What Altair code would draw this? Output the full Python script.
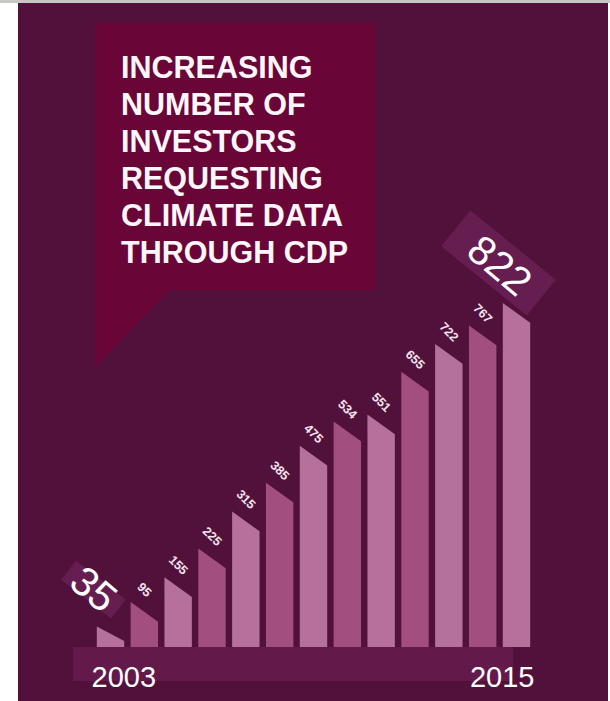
import altair as alt
import pandas as pd

# ---- data ----
years = [2003, 2004, 2005, 2006, 2007, 2008, 2009, 2010, 2011, 2012, 2013, 2014, 2015]
investors = [35, 95, 155, 225, 315, 385, 475, 534, 551, 655, 722, 767, 822]
title_lines = ["INCREASING", "NUMBER OF", "INVESTORS", "REQUESTING", "CLIMATE DATA", "THROUGH CDP"]
end_years = [2003, 2015]

# ---- styles ----
BG = "#52113a"
BUBBLE = "#6a0538"
BAND = "#631a4b"
LABEL_BOX = "#661e50"
LIGHT = "#b5719b"
DARK = "#a24f7f"
FONT = "Liberation Sans"

HALF_W = 0.405   # half bar width in years
SLANT = 48       # drop of the slanted bar top in data units

rows = []
for i, (yr, v) in enumerate(zip(years, investors)):
    shade = "light" if i % 2 == 0 else "dark"
    rows.append({"year": yr, "xpos": yr - HALF_W, "top": v, "shade": shade})
    rows.append({"year": yr, "xpos": yr + HALF_W, "top": max(v - SLANT, 0), "shade": shade})
bars_df = pd.DataFrame(rows)
vals_df = pd.DataFrame({"year": years, "value": investors})
ends_df = pd.DataFrame({"year": end_years, "label": [str(y) for y in end_years]})

xs = alt.Scale(domain=[2003, 2015], range=[110.5, 516.5], nice=False, zero=False)
ys = alt.Scale(domain=[0, 822], range=[641, 303], nice=False, zero=False)

one = alt.Data(values=[{}])

bg = alt.Chart(one).mark_rect(color=BG).encode(
    x=alt.value(18), x2=alt.value(608), y=alt.value(3), y2=alt.value(701))
topline = alt.Chart(one).mark_rect(color="#c6c9c1").encode(
    x=alt.value(0), x2=alt.value(610), y=alt.value(0), y2=alt.value(3))

bubble = alt.Chart(one).mark_point(
    shape="M95,23L375,23L375,290L170,290L95,367Z", size=4, filled=True,
    opacity=1, color=BUBBLE, strokeWidth=0
).encode(x=alt.value(0), y=alt.value(0))

title = alt.Chart(one).mark_text(
    text=title_lines, align="left", baseline="alphabetic", font=FONT,
    fontSize=30.5, fontWeight="bold", lineHeight=37, color="#fdf6fa"
).encode(x=alt.value(121), y=alt.value(78))

bars = alt.Chart(bars_df).mark_area(opacity=1, interpolate="linear").encode(
    x=alt.X("xpos:Q", scale=xs, axis=None),
    y=alt.Y("top:Q", scale=ys, axis=None, stack=None),
    y2=alt.value(647),
    detail="year:N",
    color=alt.Color("shade:N", scale=alt.Scale(domain=["light", "dark"], range=[LIGHT, DARK]), legend=None),
)

base_vals = alt.Chart(vals_df).encode(
    x=alt.X("year:Q", scale=xs, axis=None),
    y=alt.Y("value:Q", scale=ys, axis=None),
)

mid_labels = base_vals.transform_filter(
    "datum.year > 2003 && datum.year < 2015"
).mark_text(
    angle=45, yOffset=-12, xOffset=0, fontSize=12.5, fontWeight="bold", font=FONT,
    color="#f3e4ee", align="center", baseline="middle"
).encode(text="value:Q")

box_first = base_vals.transform_filter("datum.year == 2003").mark_point(
    shape="M-1,-0.38L1,-0.38L1,0.38L-1,0.38Z", size=3969, angle=38, filled=True,
    opacity=1, color=LABEL_BOX, strokeWidth=0, xOffset=-17, yOffset=-37)
box_last = base_vals.transform_filter("datum.year == 2015").mark_point(
    shape="M-1,-0.42L1,-0.42L1,0.42L-1,0.42Z", size=12100, angle=39, filled=True,
    opacity=1, color=LABEL_BOX, strokeWidth=0, xOffset=-18, yOffset=-40)

big_labels = base_vals.transform_filter(
    "datum.year == 2003 || datum.year == 2015"
).mark_text(
    angle=40, xOffset=-18, yOffset=-36, fontSize=41, font=FONT, color="#ffffff",
    align="center", baseline="middle"
).encode(text="value:Q")

band = alt.Chart(one).mark_rect(color=BAND).encode(
    x=alt.value(73), x2=alt.value(513), y=alt.value(647), y2=alt.value(681))

year_first = alt.Chart(ends_df).transform_filter("datum.year == 2003").mark_text(
    align="left", baseline="alphabetic", dx=-19, fontSize=29, font=FONT, color="#ffffff"
).encode(x=alt.X("year:Q", scale=xs, axis=None), y=alt.value(687), text="label:N")
year_last = alt.Chart(ends_df).transform_filter("datum.year == 2015").mark_text(
    align="right", baseline="alphabetic", dx=18, fontSize=29, font=FONT, color="#ffffff"
).encode(x=alt.X("year:Q", scale=xs, axis=None), y=alt.value(687), text="label:N")

chart = alt.layer(
    bg, topline, bubble, title, bars, mid_labels, box_first, box_last, big_labels,
    band, year_first, year_last
).properties(
    width=610, height=701, padding=0, background="#ffffff",
    autosize=alt.AutoSizeParams(type="none"),
).configure_view(stroke="transparent")

chart.save("out.html", embed_options={"renderer": "svg", "actions": False})
